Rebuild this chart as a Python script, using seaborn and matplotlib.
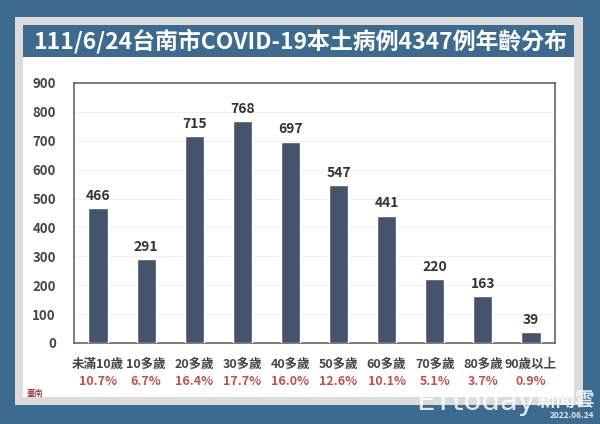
import matplotlib
matplotlib.use("Agg")
import matplotlib.pyplot as plt
import seaborn as sns
import pandas as pd
from matplotlib.patches import Rectangle

categories = ["未滿10歲", "10多歲", "20多歲", "30多歲", "40多歲", "50多歲", "60多歲", "70多歲", "80多歲", "90歲以上"]
cases = [466, 291, 715, 768, 697, 547, 441, 220, 163, 39]
percents = ["10.7%", "6.7%", "16.4%", "17.7%", "16.0%", "12.6%", "10.1%", "5.1%", "3.7%", "0.9%"]
title = "111/6/24台南市COVID-19本土病例4347例年齡分布"

sns.set_theme(style="white")
plt.rcParams['font.family'] = ['Noto Sans CJK TC', 'DejaVu Sans']

W, H = 600, 424
fig = plt.figure(figsize=(6, 4.24), dpi=100)
fig.patch.set_facecolor("#3d6b90")

def rect(x0, y0, x1, y1, color):
    fig.patches.append(Rectangle((x0 / W, 1 - y1 / H), (x1 - x0) / W, (y1 - y0) / H,
                                 transform=fig.transFigure, facecolor=color, edgecolor="none", zorder=-5))

rect(15, 17, 583, 405, "#dcdcdc")
rect(23, 57, 574, 397, "#ffffff")
rect(23, 25, 574, 57, "#3d6b90")
fig.text(300 / W, 1 - 41 / H, title, color="white", fontsize=16.5, fontweight="heavy",
         ha="center", va="center")

ax_l, ax_t, ax_r, ax_b = 74, 83, 555, 343
ax = fig.add_axes([ax_l / W, 1 - ax_b / H, (ax_r - ax_l) / W, (ax_b - ax_t) / H])
ax.set_zorder(2)
df = pd.DataFrame({"age": categories, "cases": cases})
sns.barplot(data=df, x="age", y="cases", color="#44546a", width=0.4, saturation=1, ax=ax, zorder=3)
ax.set_ylim(0, 900)
ax.set_yticks(range(0, 901, 100))
ax.yaxis.grid(True, color="#f0f0f0", linewidth=0.8, zorder=0)
ax.set_axisbelow(True)
ax.set_xlabel("")
ax.set_ylabel("")
ax.set_xticks(range(len(categories)))
ax.set_xticklabels([])
ax.tick_params(axis="y", labelsize=9.5, colors="#444444", length=0, pad=13)
ax.tick_params(axis="x", length=0)
for lab in ax.get_yticklabels():
    lab.set_fontweight("bold")
for s in ax.spines.values():
    s.set_visible(True)
    s.set_color("#666666")
    s.set_linewidth(1.2)

for i, v in enumerate(cases):
    ax.text(i, v + 18, str(v), ha="center", va="bottom", fontsize=10, fontweight="bold", color="#333333")

for i, (c, p) in enumerate(zip(categories, percents)):
    ax.annotate(c, xy=(i, 0), xycoords=("data", "axes fraction"), xytext=(0, -15.5),
                textcoords="offset points", ha="center", va="center", fontsize=9,
                fontweight="bold", color="#444444", annotation_clip=False)
    ax.annotate(p, xy=(i, 0), xycoords=("data", "axes fraction"), xytext=(0, -28),
                textcoords="offset points", ha="center", va="center", fontsize=9,
                fontweight="bold", color="#c0504d", annotation_clip=False)

fig.text(35 / W, 1 - 393 / H, "臺南", color="#8b1a1a", fontsize=6, ha="center", va="center")
fig.text(535 / W, 1 - 402 / H, "ETtoday", color="white", alpha=0.85, fontsize=21,
         ha="right", va="center", family="DejaVu Sans")
fig.text(595 / W, 1 - 400 / H, "新聞雲", color="white", alpha=0.85, fontsize=14,
         ha="right", va="center", fontweight="bold")
fig.text(594 / W, 1 - 416 / H, "2022.06.24", color="white", alpha=0.85, fontsize=6,
         ha="right", va="center", fontweight="bold")

fig.savefig("out.png", dpi=100, facecolor=fig.get_facecolor())
